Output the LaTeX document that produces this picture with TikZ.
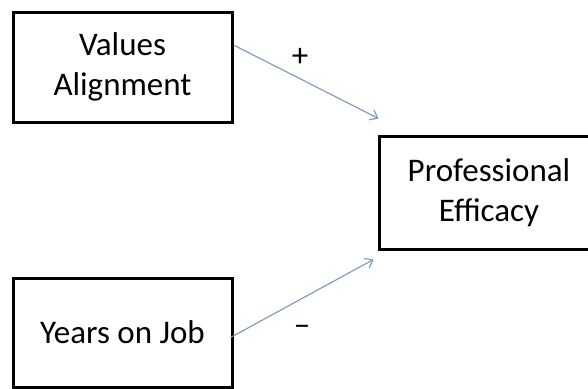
\documentclass[tikz,border=0pt]{standalone}
\usepackage{fontspec}
\setmainfont{Carlito}
\usetikzlibrary{arrows.meta}
\definecolor{arrowblue}{RGB}{122,150,186}
\begin{document}
\begin{tikzpicture}[x=1pt,y=-1pt,
  box/.style={draw=black, line width=3pt, minimum width=219pt, minimum height=110pt,
    align=center, font=\fontsize{33}{40}\selectfont, inner sep=0pt},
  link/.style={draw=arrowblue, line width=1.1pt, -{Straight Barb[length=7pt,width=11pt]}},
  sign/.style={font=\fontsize{33}{40}\selectfont, inner sep=0pt}]
\useasboundingbox (0,0) rectangle (588,388);
\clip (0,0) rectangle (588,388);
\node[box] (v) at (122.5,67) {Values\\Alignment};
\node[box, draw=none, minimum width=216pt] (p) at (489,193) {Professional\\Efficacy};
\draw[line width=3pt, line join=miter] ([xshift=240pt]p.north west) -- (p.north west)
  -- (p.south west) -- ++(240,0);
\node[box, minimum height=109pt] (y) at (122.5,332.5) {Years on Job};
\coordinate (e1) at ([xshift=-1pt,yshift=18pt]p.north west);
\coordinate (e2) at ([xshift=-6pt,yshift=-10pt]p.south west);
\draw[link] ([yshift=22pt]v.east) -- (e1);
\draw[link] ([xshift=-3pt,yshift=-5pt]y.east) -- (e2);
\node[sign] (plus) at (300,57) {+};
\node[sign] (minus) at (302,330) {–};
\end{tikzpicture}
\end{document}
